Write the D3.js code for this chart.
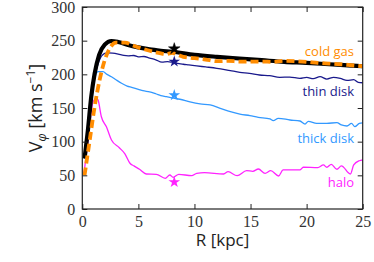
<!DOCTYPE html>
<html>
<head>
<meta charset="utf-8">
<script src="https://cdn.jsdelivr.net/npm/d3@7"></script>
<style>
html,body{margin:0;padding:0;background:#fff;}
svg{display:block;}
</style>
</head>
<body>
<svg id="chart" width="374" height="262"></svg>
<script>
// ---- data ----
const totalR = [0.2,0.5,0.8,1.1,1.5,2.0,2.6,3.2,4.0,5.0,6.0,7.0,8.0,10,12,14,16,18,20,22,24,25];
const totalV = [75,117,167,201,229,244,249.5,248,244,240,237,235,233.5,229,226,223.5,221,218.5,217,215,213,212];

const coldR = [0.2,0.66,1.1,1.55,2.0,2.45,3.0,3.8,4.5,5.0,6.0,7.0,7.5,8.0,8.5,9.0,10,11,12,13,14,15,16,17,18,19,20,21,22,23,24,25];
const coldV = [50,102,152,192,221,238.6,247,247,243,240,235,231,230,232,229,226,224,222,219.5,220,219,219,219,218.5,220,219.5,218.5,217,216,215,213.5,212];

const thinR = [0.2,0.5,0.8,1.1,1.5,2.0,2.3,2.7,3.2,3.7,4.1,4.6,5.0,5.5,6.0,6.5,7.1,7.6,8.0,8.4,9,9.5,10.2,11,12,13.2,14.05,14.9,15.8,16.7,17.6,18.5,19.4,20.0,20.6,21.2,21.8,22.4,23,23.6,24.2,24.6,25];
const thinV = [75,115,163,195,220,231,232,231.5,230,228,227.5,228,226,226.5,224,222,218,219,218,216.5,215,214,212.5,211,209,205.5,203,201.5,199,198,195.6,196,194,195.5,193.5,196.5,193,195.5,194,191,192,188,187.5];

const thickR = [0.2,0.5,0.8,1.1,1.4,1.85,2.2,2.6,3.0,3.5,4.0,4.4,5.0,5.4,6.0,6.6,7.0,7.5,8.0,8.7,9.6,10.5,11.4,12.3,13.2,14.05,14.94,15.69,16.73,17.03,17.47,18.52,19.41,19.86,20.15,20.9,21.8,22.7,23.1,23.6,24.0,24.3,24.7,25];
const thickV = [75,112,160,193,204,204,200,196.5,192,186.7,182.5,180.7,177.8,175.7,174,170.8,168.5,166.8,165,163,159,156,154.5,149.6,144.5,141,138.6,136.2,133.7,131.3,134.7,132.2,130.7,126.2,130.2,127.2,127.2,128.2,124.8,123.3,127.2,122.3,127.2,128];

const haloR = [0.15,0.5,0.95,1.25,1.4,1.7,2.15,2.6,3.3,3.8,4.25,4.6,5.1,5.7,6.6,7.4,7.8,8.1,8.6,9.75,10.2,10.9,12.6,13.0,13.8,14.65,15.2,15.7,16.3,16.8,17.5,17.9,18.8,19.4,19.7,21.0,21.5,21.8,22.2,22.7,23.1,23.9,24.2,24.7,25];
const haloV = [53,100,159,164.4,162,137,122,102.5,91,82,68,64,59,52,51.5,45.6,50.5,47,51.5,49.5,53,54,52,55.4,49.5,57,56,59.4,53,57,49,58,58,58,62,61.4,65.4,62,66.4,59,64,52,65.4,71.7,73];

const starR = [8.2, 8.2, 8.2, 8.2];
const starV = [238, 219, 169, 40];

const seriesNames = ["cold gas", "thin disk", "thick disk", "halo"];
const xTicks = [0,5,10,15,20,25];
const yTicks = [0,50,100,150,200,250,300];

// ---- chart ----
const svg = d3.select("#chart");
const PL = 82.3, PR = 362.7, PT = 7, PB = 209;
const x = d3.scaleLinear().domain([0,25]).range([PL,PR]);
const y = d3.scaleLinear().domain([0,300]).range([PB,PT]);

const C = {total:"#000000", cold:"#ff8c00", thin:"#1a1a8c", thick:"#3399ff", halo:"#ff22ff"};

const line = d3.line().x(d=>x(d[0])).y(d=>y(d[1])).curve(d3.curveMonotoneX);
const zip = (a,b)=>a.map((v,i)=>[v,b[i]]);

const g = svg.append("g");
g.append("path").datum(zip(thinR,thinV)).attr("d",line).attr("fill","none").attr("stroke",C.thin).attr("stroke-width",1.3);
g.append("path").datum(zip(thickR,thickV)).attr("d",line).attr("fill","none").attr("stroke",C.thick).attr("stroke-width",1.3);
g.append("path").datum(zip(haloR,haloV)).attr("d",line).attr("fill","none").attr("stroke",C.halo).attr("stroke-width",1.3);
g.append("path").datum(zip(totalR,totalV)).attr("d",line).attr("fill","none").attr("stroke",C.total).attr("stroke-width",4.2);
g.append("path").datum(zip(coldR,coldV)).attr("d",line).attr("fill","none").attr("stroke",C.cold).attr("stroke-width",3.8).attr("stroke-dasharray","8,4");

const starColors = [C.total, C.thin, C.thick, C.halo];
const star = d3.symbol().type(d3.symbolStar).size(42);
starR.forEach((r,i)=>{
  svg.append("path").attr("d",star).attr("transform",`translate(${x(r)},${y(starV[i])})`)
    .attr("fill",starColors[i]).attr("stroke", i===0 ? "#000" : "none").attr("stroke-width",0.5);
});

// axes
const tickFont = "'Liberation Serif', 'DejaVu Serif', serif";
const ax = svg.append("g");
ax.append("g").attr("transform",`translate(0,${PB})`)
  .call(d3.axisBottom(x).tickValues(xTicks).tickSizeInner(-5).tickSizeOuter(0).tickPadding(7).tickFormat(d3.format("d")));
ax.append("g").attr("transform",`translate(${PL},0)`)
  .call(d3.axisLeft(y).tickValues(yTicks).tickSizeInner(-5).tickSizeOuter(0).tickPadding(7).tickFormat(d3.format("d")));
ax.append("g").attr("transform",`translate(0,${PT})`)
  .call(d3.axisTop(x).tickValues(xTicks).tickSizeInner(-5).tickSizeOuter(0).tickFormat(""));
ax.append("g").attr("transform",`translate(${PR},0)`)
  .call(d3.axisRight(y).tickValues(yTicks).tickSizeInner(-5).tickSizeOuter(0).tickFormat(""));
ax.selectAll(".domain").remove();
ax.selectAll(".tick line").attr("stroke","#222").attr("stroke-width",1);
ax.selectAll(".tick text").attr("font-family",tickFont).attr("font-size",16).attr("fill","#333");
svg.append("rect").attr("x",PL).attr("y",PT).attr("width",PR-PL).attr("height",PB-PT)
  .attr("fill","none").attr("stroke","#222").attr("stroke-width",1.2);

// labels
const sans = "'Open Sans', 'DejaVu Sans', sans-serif";
svg.append("text").attr("x",(PL+PR)/2).attr("y",246).attr("text-anchor","middle")
  .attr("font-family",sans).attr("font-size",17).attr("fill","#222").text("R [kpc]");

const yl = svg.append("text").attr("transform",`translate(42,${(PT+PB)/2}) rotate(-90)`)
  .attr("text-anchor","middle").attr("font-family",sans).attr("font-size",18).attr("fill","#222");
yl.append("tspan").text("V");
yl.append("tspan").attr("font-size",12).attr("font-style","italic").attr("dy",4).text("φ");
yl.append("tspan").attr("dy",-4).text(" [km s");
yl.append("tspan").attr("font-size",12).attr("dy",-7).text("−1");
yl.append("tspan").attr("dy",7).text("]");

const labY = [56, 96, 143, 187];
const labC = [C.cold, C.thin, C.thick, C.halo];
seriesNames.forEach((n,i)=>{
  svg.append("text").attr("x",354).attr("y",labY[i]).attr("text-anchor","end")
    .attr("font-family",sans).attr("font-size",13).attr("fill",labC[i]).text(n);
});
</script>
</body>
</html>
